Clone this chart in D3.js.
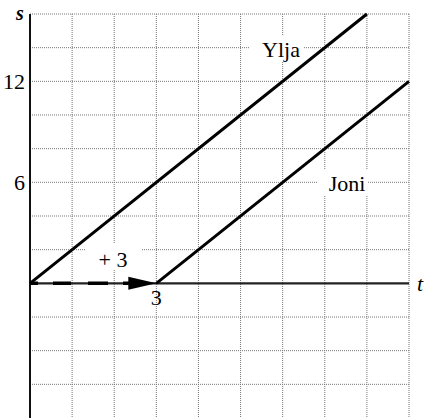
<!DOCTYPE html>
<html>
<head>
<meta charset="utf-8">
<script src="https://cdn.jsdelivr.net/npm/d3@7"></script>
<style>
  body { margin: 0; background: #fff; }
  svg { display: block; }
</style>
</head>
<body>
<div id="chart"></div>
<script>
// Ylja and Joni, distance s against time t
const yljaT = [0, 8];
const yljaS = [0, 16];
const joniT = [3, 9];
const joniS = [0, 12];
const shift = [0, 3]; // +3 head start arrow along t axis
const sTickLabels = [6, 12];
const tTickLabels = [3];

const W = 424, H = 418;
const svg = d3.select("#chart").append("svg")
  .attr("width", W).attr("height", H)
  .attr("font-family", "Liberation Serif");

const x = d3.scaleLinear().domain([0, 9]).range([30, 409]);
const y = d3.scaleLinear().domain([-8, 16]).range([418, 14]);

// dotted grid
const grid = svg.append("g")
  .attr("stroke", "#777")
  .attr("stroke-width", 1)
  .attr("stroke-dasharray", "1,1");

grid.selectAll("line.v")
  .data(d3.range(1, 10))
  .enter().append("line")
  .attr("x1", d => x(d)).attr("x2", d => x(d))
  .attr("y1", y(16)).attr("y2", y(-8));

grid.selectAll("line.h")
  .data(d3.range(-6, 17, 2).filter(d => d !== 0))
  .enter().append("line")
  .attr("x1", x(0)).attr("x2", x(9))
  .attr("y1", d => y(d)).attr("y2", d => y(d));

// white gaps behind labels
svg.append("rect").attr("x", 250).attr("y", 36).attr("width", 54).attr("height", 26).attr("fill", "#fff");
svg.append("rect").attr("x", 318).attr("y", 170).attr("width", 50).attr("height", 26).attr("fill", "#fff");
svg.append("rect").attr("x", 86).attr("y", 244).attr("width", 56).attr("height", 26).attr("fill", "#fff");

// axes
svg.append("line")
  .attr("x1", x(0)).attr("x2", x(0))
  .attr("y1", y(16)).attr("y2", y(-8))
  .attr("stroke", "#111").attr("stroke-width", 2);

svg.append("line")
  .attr("x1", x(0)).attr("x2", x(9))
  .attr("y1", y(0)).attr("y2", y(0))
  .attr("stroke", "#222").attr("stroke-width", 2.2);

// dashed head start arrow
svg.append("line")
  .attr("x1", x(shift[0])).attr("x2", x(shift[1]) - 24)
  .attr("y1", y(0)).attr("y2", y(0))
  .attr("stroke", "#000").attr("stroke-width", 3.5)
  .attr("stroke-dasharray", "8,15,18,17,20,15,20");

svg.append("path")
  .attr("d", `M${x(shift[1])},${y(0)} L${x(shift[1]) - 28},${y(0) - 6.5} L${x(shift[1]) - 28},${y(0) + 6.5} Z`)
  .attr("fill", "#000");

// motion lines
const line = d3.line().x(d => x(d[0])).y(d => y(d[1]));
svg.append("path")
  .attr("d", line(d3.zip(yljaT, yljaS)))
  .attr("fill", "none").attr("stroke", "#000").attr("stroke-width", 3);
svg.append("path")
  .attr("d", line(d3.zip(joniT, joniS)))
  .attr("fill", "none").attr("stroke", "#000").attr("stroke-width", 3);

// text
svg.append("text")
  .attr("x", 281).attr("y", 57)
  .attr("text-anchor", "middle")
  .attr("font-size", 22)
  .text("Ylja");
svg.append("text")
  .attr("x", 347).attr("y", 191)
  .attr("text-anchor", "middle")
  .attr("font-size", 22)
  .text("Joni");
svg.append("text")
  .attr("x", 113).attr("y", 267)
  .attr("text-anchor", "middle")
  .attr("font-size", 22)
  .text("+ 3");

svg.selectAll("text.sl")
  .data(sTickLabels)
  .enter().append("text")
  .attr("x", 25).attr("y", d => y(d) + 8)
  .attr("text-anchor", "end")
  .attr("font-size", 22)
  .text(d => d);

svg.selectAll("text.tl")
  .data(tTickLabels)
  .enter().append("text")
  .attr("x", d => x(d)).attr("y", y(0) + 22)
  .attr("text-anchor", "middle")
  .attr("font-size", 22)
  .text(d => d);

svg.append("text")
  .attr("x", 20).attr("y", 20)
  .attr("text-anchor", "middle")
  .attr("font-size", 20)
  .attr("font-style", "italic").attr("font-weight", "bold")
  .text("s");
svg.append("text")
  .attr("x", 420).attr("y", 291)
  .attr("text-anchor", "middle")
  .attr("font-size", 22)
  .attr("font-style", "italic")
  .text("t");
</script>
</body>
</html>
